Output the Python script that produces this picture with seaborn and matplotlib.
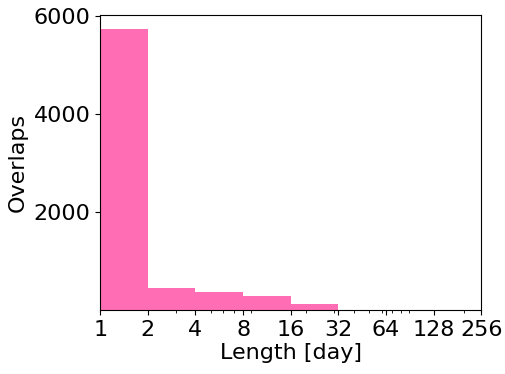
import numpy as np
import pandas as pd
import seaborn as sns
import matplotlib.pyplot as plt
from matplotlib.ticker import NullFormatter

# Bin edges (days) and overlap counts
bin_edges = [1, 2, 4, 8, 16, 32, 64, 128, 256]
bin_left = [1, 2, 4, 8, 16, 32, 64, 128]
overlaps = [5733, 447, 366, 284, 120, 0, 0, 0]
tick_labels = ["1", "2", "4", "8", "16", "32", "64", "128", "256"]

df = pd.DataFrame({"length": bin_left, "overlaps": overlaps})

fig = plt.figure(figsize=(5.06, 3.74), dpi=100)
ax = fig.add_axes([0.198, 0.171, 0.753, 0.789])

sns.histplot(data=df, x="length", weights="overlaps", bins=bin_edges,
             color="#FF6EB4", alpha=1, linewidth=0, ax=ax)

ax.set_xscale("log")
ax.set_xticks(bin_edges)
ax.set_xticklabels(tick_labels)
ax.xaxis.set_minor_formatter(NullFormatter())
ax.set_xlim(1, 256)
ax.set_yticks([2000, 4000, 6000])

ax.tick_params(labelsize=16)
ax.set_xlabel("Length [day]", fontsize=16, labelpad=2)
ax.set_ylabel("Overlaps", fontsize=16)

fig.savefig("out.png", dpi=100)
